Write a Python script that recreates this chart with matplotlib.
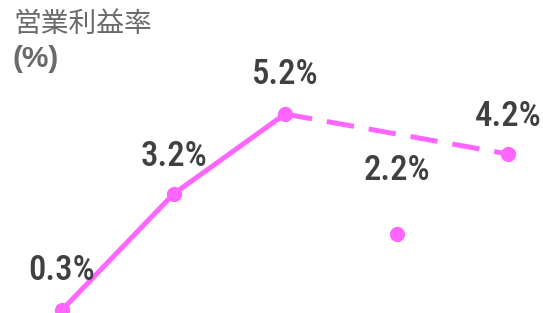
import matplotlib
matplotlib.use("Agg")
import matplotlib.pyplot as plt

categories = ["A", "B", "C", "D", "E"]
values = [0.3, 3.2, 5.2, 2.2, 4.2]
labels = ["0.3%", "3.2%", "5.2%", "2.2%", "4.2%"]
label_offsets = [40, 38, 39, 64, 37]  # px above point

plt.rcParams['font.family'] = ['Roboto Condensed', 'Roboto', 'DejaVu Sans']

color = "#ff66ff"
dpi = 100
fig = plt.figure(figsize=(5.43, 3.13), dpi=dpi)
ax = fig.add_axes([0, 0, 1, 1])
ax.axis('off')
x = list(range(len(categories)))
ax.set_xlim(-62/111.5, (543-62)/111.5)
ax.set_ylim(0.3 - 3/40, 0.3 + 310/40)

ax.plot(x[:3], values[:3], color=color, lw=3.6, solid_capstyle='round', zorder=2)
ax.plot([x[2], x[4]], [values[2], values[4]], color=color, lw=3.6,
        dashes=(5.5, 3), zorder=2)
ax.plot(x, values, 'o', color=color, ms=11, mec='none', zorder=3)

for xi, v, lab, off in zip(x, values, labels, label_offsets):
    ax.annotate(lab, (xi, v), xytext=(0, off * 72 / dpi), textcoords='offset points',
                ha='center', va='center', fontsize=25, fontweight=500,
                color='#404040')

fig.text(13/543, 1 - 24/313, "営業利益率", fontsize=20, color='#6a6a6a',
         family=['Noto Sans CJK JP', 'DejaVu Sans'], va='center', ha='left')
fig.text(12/543, 1 - 59/313, "(%)", fontsize=21.5, fontweight='bold', color='#6a6a6a',
         family=['Liberation Sans', 'DejaVu Sans'], va='center', ha='left')

fig.savefig("out.png", dpi=dpi)
